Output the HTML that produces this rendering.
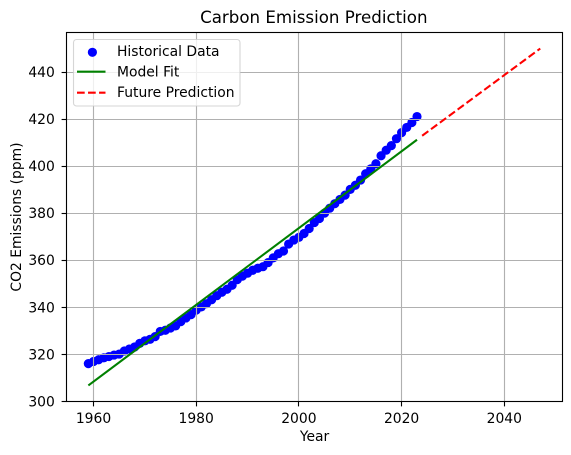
<!DOCTYPE html>
<html>
<head>
<meta charset="utf-8">
<title>Carbon Emission Prediction</title>
<style>
html,body{margin:0;padding:0;background:#fff;width:571px;height:455px;overflow:hidden}
svg{display:block}
text{font-family:"DejaVu Sans","Liberation Sans",sans-serif;fill:#000}
</style>
</head>
<body>
<svg id="chart" xmlns="http://www.w3.org/2000/svg" width="571" height="455" viewBox="0 0 571 455">
  <rect x="0" y="0" width="571" height="455" fill="#fff"/>
  <g id="scatter"></g>
  <g id="grid"></g>
  <g id="lines"></g>
  <g id="ticks"></g>
  <rect x="66.5" y="32.5" width="496" height="369" fill="none" stroke="#000" stroke-width="1.11"/>
  <text x="313.8" y="23" font-size="16.67" text-anchor="middle">Carbon Emission Prediction</text>
  <text x="314.5" y="441" font-size="13.89" text-anchor="middle">Year</text>
  <text transform="translate(21,217) rotate(-90)" font-size="13.89" text-anchor="middle">CO2 Emissions (ppm)</text>
  <g>
    <rect x="73.5" y="39.5" width="166.5" height="66.5" rx="3" ry="3" fill="#fff" fill-opacity="0.8" stroke="#ccc" stroke-opacity="0.8" stroke-width="1.11"/>
    <circle cx="92.4" cy="52.3" r="4.6" fill="#0000ff"/>
    <text x="117" y="56" font-size="13.89" fill="#000">Historical Data</text>
    <line x1="77" y1="71.7" x2="105.5" y2="71.7" stroke="#008000" stroke-width="2.08"/>
    <text x="117" y="76.5" font-size="13.89">Model Fit</text>
    <line x1="77" y1="92.7" x2="105.5" y2="92.7" stroke="#ff0000" stroke-width="2.08" stroke-dasharray="7.7,3.33"/>
    <text x="117" y="97" font-size="13.89">Future Prediction</text>
  </g>
</svg>
<script>
var firstYear = 1959;
var co2Values = [315.98,316.91,317.64,318.45,318.99,319.62,320.04,321.37,322.18,323.05,324.62,325.68,326.32,327.46,329.68,330.19,331.12,332.03,333.84,335.41,336.84,338.76,340.12,341.48,343.15,344.87,346.35,347.61,349.31,351.69,353.20,354.45,355.70,356.54,357.21,358.96,360.97,362.74,363.88,366.84,368.54,369.71,371.32,373.45,375.98,377.70,379.98,382.09,384.02,385.83,387.64,390.10,391.85,394.06,396.74,398.81,401.01,404.41,406.76,408.72,411.66,414.24,416.45,418.56,421.08];
var fitYears = [1959, 2023];
var fitValues = [306.7, 411.2];
var futureYears = [2024, 2047];
var futureValues = [412.9, 450.0];
var xTickLabels = [1960, 1980, 2000, 2020, 2040];
var yTickLabels = [300, 320, 340, 360, 380, 400, 420, 440];

var NS = 'http://www.w3.org/2000/svg';
function xScale(year) { return 93.5 + (year - 1960) * 5.135; }
function yScale(value) { return 401.2 - (value - 300) * 2.351; }
function snap(p) { return Math.round(p - 0.5) + 0.5; }
function make(tag, attrs, parent) {
  var el = document.createElementNS(NS, tag);
  for (var k in attrs) { el.setAttribute(k, attrs[k]); }
  parent.appendChild(el);
  return el;
}

var scatter = document.getElementById('scatter');
var grid = document.getElementById('grid');
var lines = document.getElementById('lines');
var ticks = document.getElementById('ticks');

co2Values.forEach(function (v, i) {
  var c = make('circle', {cx: xScale(firstYear + i), cy: yScale(v), r: 4.6, fill: '#0000ff'}, scatter);
  
  
});

xTickLabels.forEach(function (t) {
  var x = snap(xScale(t));
  var g = make('line', {x1: x, x2: x, y1: 32.5, y2: 401.5, stroke: '#b0b0b0', 'stroke-width': 1.11}, grid);
  
  
  var m = make('line', {x1: x, x2: x, y1: 401.5, y2: 406.4, stroke: '#000', 'stroke-width': 1.11}, ticks);
  
  
  var l = make('text', {x: xScale(t), y: 423, 'font-size': 13.89, 'text-anchor': 'middle'}, ticks);
  
  
  l.textContent = t;
});

yTickLabels.forEach(function (t) {
  var y = snap(yScale(t));
  var g = make('line', {x1: 66.5, x2: 562.5, y1: y, y2: y, stroke: '#b0b0b0', 'stroke-width': 1.11}, grid);
  
  
  var m = make('line', {x1: 61.6, x2: 66.5, y1: y, y2: y, stroke: '#000', 'stroke-width': 1.11}, ticks);
  
  
  var l = make('text', {x: 54.8, y: yScale(t) + 5.1, 'font-size': 13.89, 'text-anchor': 'end'}, ticks);
  
  
  l.textContent = t;
});

function polyPoints(xs, ys) {
  return xs.map(function (x, i) { return xScale(x) + ',' + yScale(ys[i]); }).join(' ');
}
var fit = make('polyline', {points: polyPoints(fitYears, fitValues), fill: 'none', stroke: '#008000', 'stroke-width': 2.08}, lines);


var future = make('polyline', {points: polyPoints(futureYears, futureValues), fill: 'none', stroke: '#ff0000', 'stroke-width': 2.08, 'stroke-dasharray': '7.7,3.33'}, lines);


</script>
</body>
</html>
